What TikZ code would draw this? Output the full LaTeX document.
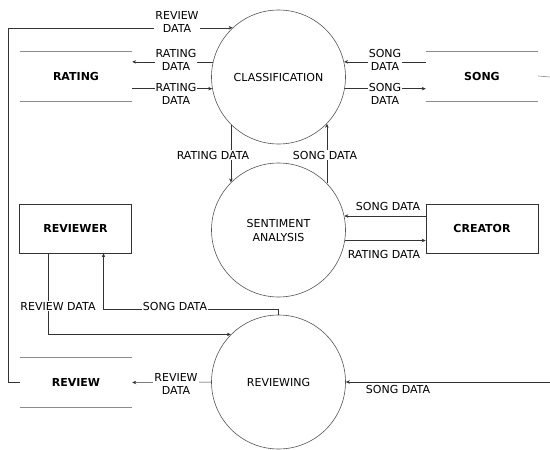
\documentclass[tikz,border=0pt]{standalone}
\usepackage{fontspec}
\setmainfont{DejaVu Sans}
\usetikzlibrary{arrows.meta}
\definecolor{lnc}{HTML}{333333}
\definecolor{stc}{HTML}{8C8C8C}
\definecolor{cic}{HTML}{555555}
\tikzset{
  proc/.style={circle, draw=cic, line width=0.6pt, minimum size=134pt, inner sep=0pt, align=center, font=\fontsize{11}{14}\selectfont},
  entity/.style={rectangle, draw=lnc, line width=0.6pt, minimum width=112pt, minimum height=49pt, inner sep=0pt, font=\bfseries\fontsize{11}{14}\selectfont},
  store/.style={rectangle, minimum width=112pt, minimum height=50pt, inner sep=0pt, font=\bfseries\fontsize{11}{14}\selectfont},
  storeline/.style={draw=stc, line width=0.6pt},
  flow/.style={draw=lnc, line width=0.5pt, -{Stealth[length=4pt,width=3.5pt]}},
  plain/.style={draw=stc, line width=0.6pt},
  lbl/.style={fill=white, inner sep=1pt, align=center, font=\fontsize{11}{13.5}\selectfont}
}
\begin{document}
\begin{tikzpicture}[x=1pt,y=-1pt]
\useasboundingbox (0,0) rectangle (550,450);
% processes
\node[proc] (cls) at (278.5,77) {CLASSIFICATION};
\node[proc] (sen) at (278.5,230) {SENTIMENT\\ANALYSIS};
\node[proc] (rvw) at (278.5,382) {REVIEWING};
% entities
\node[entity] (rvr) at (75.5,228.5) {REVIEWER};
\node[entity] (cre) at (482,228.5) {CREATOR};
% stores
\node[store] (rat) at (76,76) {RATING};
\node[store] (song) at (482,76) {SONG};
\node[store] (rev) at (76,382.5) {REVIEW};
\draw[storeline] (rat.north west) -- (rat.north east) (rat.south west) -- (rat.south east);
\draw[storeline] (song.north west) -- (song.north east) (song.south west) -- (song.south east);
\draw[storeline] (rev.north west) -- (rev.north east) (rev.south west) -- (rev.south east);
% free ends
\coordinate (edgeS) at (550,77);
\coordinate (edgeR) at (550,382);
% review data loop to classification
\draw[flow] (rev.west) -- ++(-12,0) |- (cls.133);
\node[lbl] at (177,22) {REVIEW\\DATA};
% rating data
\draw[flow] (cls.167) -- (rat.east |- cls.167);
\node[lbl] at (176,60) {RATING\\DATA};
\draw[flow] (rat.east |- cls.190) -- (cls.190);
\node[lbl] at (176,94) {RATING\\DATA};
% song data
\draw[flow] (song.west |- cls.13) -- (cls.13);
\node[lbl] at (385,60) {SONG\\DATA};
\draw[flow] (cls.-10) -- (song.west |- cls.-10);
\node[lbl] at (385,94) {SONG\\DATA};
\draw[plain] (song.east) -- (edgeS);
% classification <-> sentiment
\draw[flow] (cls.225) -- (sen.135);
\node[lbl] at (213,155) {RATING DATA};
\draw[flow] (sen.44) -- (cls.-44);
\node[lbl] at (325,155) {SONG DATA};
% sentiment <-> creator
\draw[flow] (cre.west |- sen.12) -- (sen.12);
\node[lbl] at (388,206) {SONG DATA};
\draw[flow] (sen.-9) -- (cre.west |- sen.-9);
\node[lbl] at (384,254) {RATING DATA};
% reviewer <-> reviewing
\draw[flow] ([xshift=-27.5pt]rvr.south) |- (rvw.135);
\node[lbl] at (58,306) {REVIEW DATA};
\draw[flow] (rvw.north) -- ++(0,-5) -| ([xshift=28pt]rvr.south);
\node[lbl] at (175,306) {SONG DATA};
% reviewing -> review store
\draw[flow] (rvw.west) -- (rev.east);
\node[lbl] at (176,384) {REVIEW\\DATA};
% song data into reviewing
\draw[flow] (edgeR) -- (rvw.east);
\node[lbl] at (398,389) {SONG DATA};
\end{tikzpicture}
\end{document}
